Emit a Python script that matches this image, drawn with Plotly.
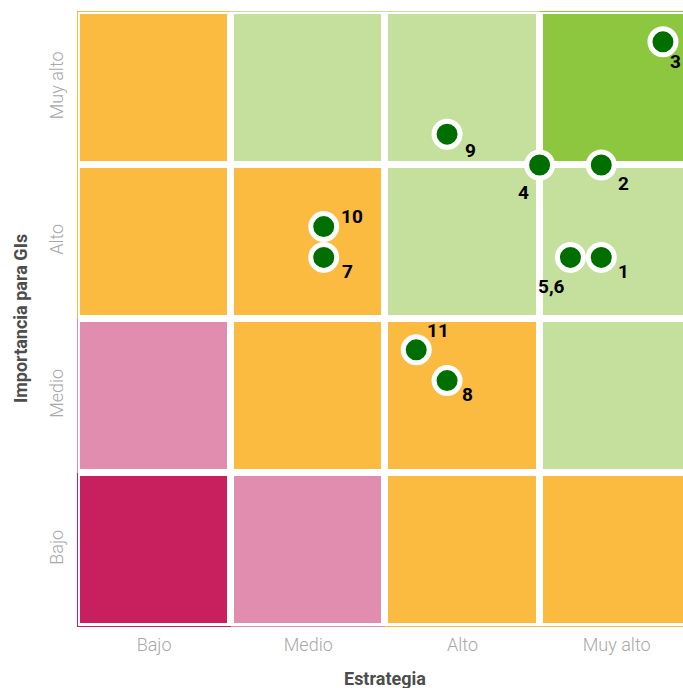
import plotly.graph_objects as go

# ---- data ----
levels = ["Bajo", "Medio", "Alto", "Muy alto"]
level_pos = [1, 2, 3, 4]

# cell class per (importance row, strategy column); rows bottom->top
# 0 crimson, 1 pink, 2 orange, 3 light green, 4 green
cell_class = [
    [0, 1, 2, 2],   # Importancia Bajo
    [1, 2, 2, 3],   # Medio
    [2, 2, 3, 3],   # Alto
    [2, 3, 3, 4],   # Muy alto
]
class_colors = ["#C81F5F", "#E08DAF", "#FBBA40", "#C5E09C", "#8DC63F"]

labels = ["1", "2", "3", "4", "5,6", "7", "8", "9", "10", "11"]
strategy = [3.9, 3.9, 4.3, 3.5, 3.7, 2.1, 2.9, 2.9, 2.1, 2.7]
importance = [2.9, 3.5, 4.3, 3.5, 2.9, 2.9, 2.1, 3.7, 3.1, 2.3]

# ---- styles ----
label_offsets = {  # (dx, dy) pixels, screen coords
    "1": (22, 14), "2": (22, 18), "3": (13, 20), "4": (-16, 27),
    "5,6": (-19, 29), "7": (24, 14), "8": (20, 14), "9": (23, 16),
    "10": (28, -10), "11": (22, -19),
}
FONT = "Roboto, Liberation Sans, sans-serif"

n = len(class_colors)
colorscale = []
for i, c in enumerate(class_colors):
    lo = max(0.0, (i - 0.5) / (n - 1))
    hi = min(1.0, (i + 0.5) / (n - 1))
    colorscale += [[lo, c], [hi, c]]

fig = go.Figure()
fig.add_trace(go.Heatmap(
    x=level_pos, y=level_pos, z=cell_class,
    colorscale=colorscale, zmin=0, zmax=n - 1,
    xgap=7, ygap=7, showscale=False, hoverinfo="skip",
))
fig.add_trace(go.Scatter(
    x=strategy, y=importance, mode="markers",
    marker=dict(size=26, color="#006F00", line=dict(color="white", width=5)),
    hoverinfo="skip", showlegend=False,
))

# thin coloured outline at the outer edge of the grid (same colour as the cell)
for i, p in enumerate(level_pos):
    c = class_colors[cell_class[i][0]]
    fig.add_shape(type="line", x0=0.5, x1=0.5, y0=p - 0.5, y1=p + 0.5,
                  line=dict(color=c, width=2), layer="below")
    c = class_colors[cell_class[-1][i]]
    fig.add_shape(type="line", x0=p - 0.5, x1=p + 0.5, y0=4.5, y1=4.5,
                  line=dict(color=c, width=2), layer="below")
    c = class_colors[cell_class[0][i]]
    fig.add_shape(type="line", x0=p - 0.5, x1=p + 0.5, y0=0.5, y1=0.5,
                  line=dict(color=c, width=2), layer="below")

for lab, xv, yv in zip(labels, strategy, importance):
    dx, dy = label_offsets[lab]
    fig.add_annotation(
        x=xv, y=yv, xref="x", yref="y", text=lab, showarrow=False,
        xshift=dx, yshift=-dy,
        font=dict(family=FONT, size=19, color="black", weight="bold"),
    )

fig.add_annotation(
    x=2.5, y=-0.083, xref="x", yref="paper", text="Estrategia", showarrow=False,
    yanchor="middle", font=dict(family=FONT, size=18, color="#4D4D4D", weight="bold"),
)
fig.add_annotation(
    x=-0.094, y=0.5, xref="paper", yref="paper", text="Importancia para GIs",
    showarrow=False, textangle=-90, xanchor="center", yanchor="middle",
    font=dict(family=FONT, size=18, color="#4D4D4D", weight="bold"),
)

fig.update_layout(
    width=683, height=688,
    margin=dict(l=77, r=0, t=11, b=61),
    plot_bgcolor="white", paper_bgcolor="white",
    showlegend=False,
)
fig.update_xaxes(
    range=[0.5, 4.43], tickvals=level_pos, ticktext=levels, automargin=False,
    showgrid=False, zeroline=False, showline=False, ticks="",
    tickfont=dict(family=FONT, size=18, color="#A8A8A8", weight=300), ticklabelstandoff=5,
)
fig.update_yaxes(
    range=[0.5, 4.5], tickvals=level_pos, ticktext=levels, tickangle=-90, automargin=False,
    showgrid=False, zeroline=False, showline=False, ticks="",
    tickfont=dict(family=FONT, size=18, color="#A8A8A8", weight=300), ticklabelstandoff=9,
)

fig.write_html("out.html", config={"displayModeBar": False},
               post_script="document.body.style.margin='0';")
